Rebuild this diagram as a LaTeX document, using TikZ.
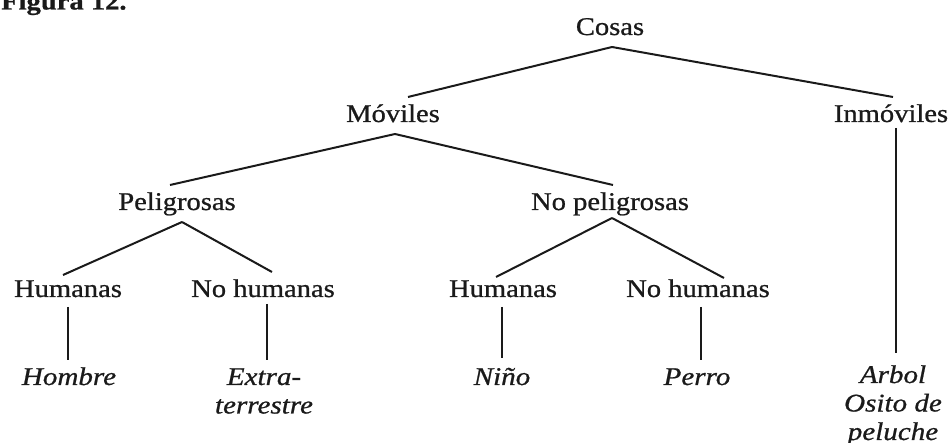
\documentclass[tikz,border=0pt]{standalone}
\usepackage{fontspec}
\setmainfont{Liberation Serif}[FakeStretch=1.12,FakeBold=0.8,ItalicFeatures={FakeStretch=1.14}]
\definecolor{ink}{HTML}{1A1A1A}
\begin{document}
\begin{tikzpicture}[x=1pt,y=-1pt,
  lbl/.style={anchor=base,inner sep=0pt,text=ink,font=\fontsize{25.5}{28.5}\selectfont},
  itl/.style={lbl,align=center,font=\fontsize{25.5}{28.5}\selectfont\itshape},
  conn/.style={draw=ink,line width=2pt}]
\useasboundingbox (0,0) rectangle (951,443);
% title (partly cut at the top)
\node[lbl,anchor=base west,font=\fontsize{25.5}{28.5}\selectfont\bfseries] (fig) at (1,9.5) {Figura 12.};
% level 0-1
\node[lbl] (cosas) at (610,35) {Cosas};
\node[lbl] (moviles) at (393,122) {Móviles};
\node[lbl] (inmoviles) at (891,122) {Inmóviles};
% level 2
\node[lbl] (pelig) at (177,210) {Peligrosas};
\node[lbl] (nopelig) at (610,210) {No peligrosas};
% level 3
\node[lbl] (hum1) at (68,297) {Humanas};
\node[lbl] (nohum1) at (263,297) {No humanas};
\node[lbl] (hum2) at (503,297) {Humanas};
\node[lbl] (nohum2) at (698,297) {No humanas};
% leaves (base anchor = baseline of the last line)
\node[itl] (hombre) at (69,385) {Hombre};
\node[itl] (extra) at (264,413.5) {Extra-\\terrestre};
\node[itl] (nino) at (502,385) {Niño};
\node[itl] (perro) at (697,385) {Perro};
\node[itl] (arbol) at (893,440) {Arbol\\Osito de\\peluche};
% connectors
\draw[conn] ([xshift=2pt,yshift=-12pt]cosas.base) -- ([xshift=15pt,yshift=25pt]moviles.base);
\draw[conn] ([xshift=2pt,yshift=-12pt]cosas.base) -- ([xshift=2pt,yshift=25pt]inmoviles.base);
\draw[conn] ([xshift=5pt,yshift=-6pt]inmoviles.base) -- ([xshift=3pt,yshift=87pt]arbol.base);
\draw[conn] ([xshift=2pt,yshift=-12pt]moviles.base) -- ([xshift=-7pt,yshift=25pt]pelig.base);
\draw[conn] ([xshift=2pt,yshift=-12pt]moviles.base) -- ([xshift=3pt,yshift=25pt]nopelig.base);
\draw[conn] ([xshift=5pt,yshift=-12pt]pelig.base) -- ([xshift=-5pt,yshift=22pt]hum1.base);
\draw[conn] ([xshift=5pt,yshift=-12pt]pelig.base) -- ([xshift=9pt,yshift=25pt]nohum1.base);
\draw[conn] ([xshift=2pt,yshift=-8pt]nopelig.base) -- ([xshift=-7pt,yshift=20pt]hum2.base);
\draw[conn] ([xshift=2pt,yshift=-8pt]nopelig.base) -- ([xshift=26pt,yshift=19pt]nohum2.base);
\draw[conn] ([yshift=-10pt]hum1.base) -- ([xshift=-1pt,yshift=25pt]hombre.base);
\draw[conn] ([xshift=4pt,yshift=-7pt]nohum1.base) -- ([xshift=3pt,yshift=53.5pt]extra.base);
\draw[conn] ([xshift=-1pt,yshift=-10pt]hum2.base) -- ([yshift=27pt]nino.base);
\draw[conn] ([xshift=3pt,yshift=-10pt]nohum2.base) -- ([xshift=4pt,yshift=25pt]perro.base);
\end{tikzpicture}
\end{document}
